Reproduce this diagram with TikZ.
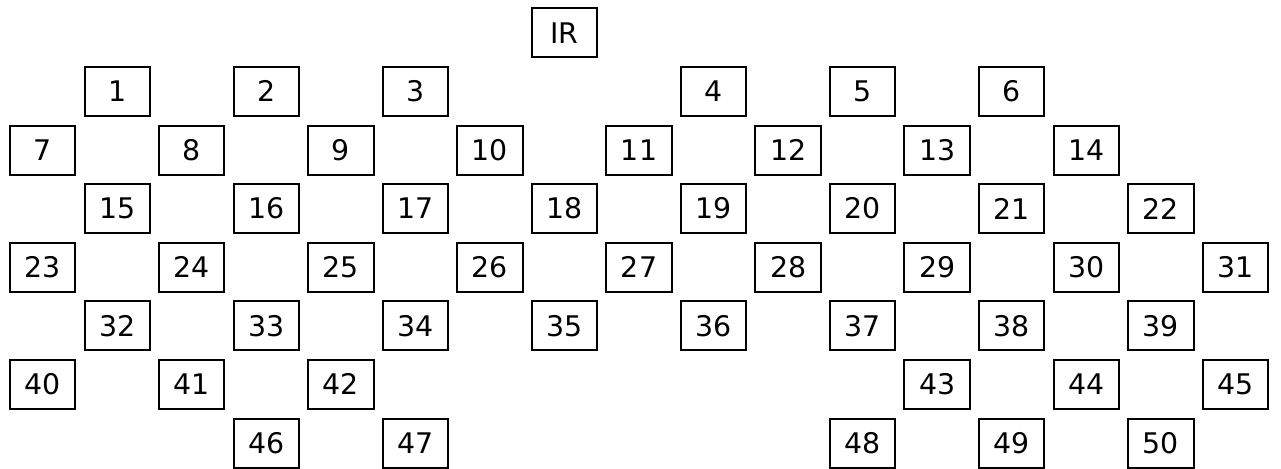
\documentclass[tikz,border=0pt]{standalone}
\usepackage{fontspec}
\setmainfont{DejaVu Sans}
\usepackage{tikz}

\tikzset{
  cell/.style={draw=black,line width=1pt,minimum width=32.7pt,minimum height=24.5pt,
    inner sep=0pt,font=\fontsize{14.2}{16}\selectfont}
}

\begin{document}
\begin{tikzpicture}[x=0.5pt,y=-0.5pt]
\useasboundingbox (0,0) rectangle (1281,468);
% column pitch 74.54, row pitch 58.6
\node[cell] (ir) at (42.7+7*74.54,32.8) {IR};
% label/column/row
\foreach \n/\c/\r in {1/1/1,2/3/1,3/5/1,4/9/1,5/11/1,6/13/1,
  7/0/2,8/2/2,9/4/2,10/6/2,11/8/2,12/10/2,13/12/2,14/14/2,
  15/1/3,16/3/3,17/5/3,18/7/3,19/9/3,20/11/3,21/13/3,22/15/3,
  23/0/4,24/2/4,25/4/4,26/6/4,27/8/4,28/10/4,29/12/4,30/14/4,31/16/4,
  32/1/5,33/3/5,34/5/5,35/7/5,36/9/5,37/11/5,38/13/5,39/15/5,
  40/0/6,41/2/6,42/4/6,43/12/6,44/14/6,45/16/6,
  46/3/7,47/5/7,48/11/7,49/13/7,50/15/7}{
  \node[cell] (b\n) at (42.7+\c*74.54,32.8+\r*58.6) {\n};
}
\end{tikzpicture}
\end{document}
